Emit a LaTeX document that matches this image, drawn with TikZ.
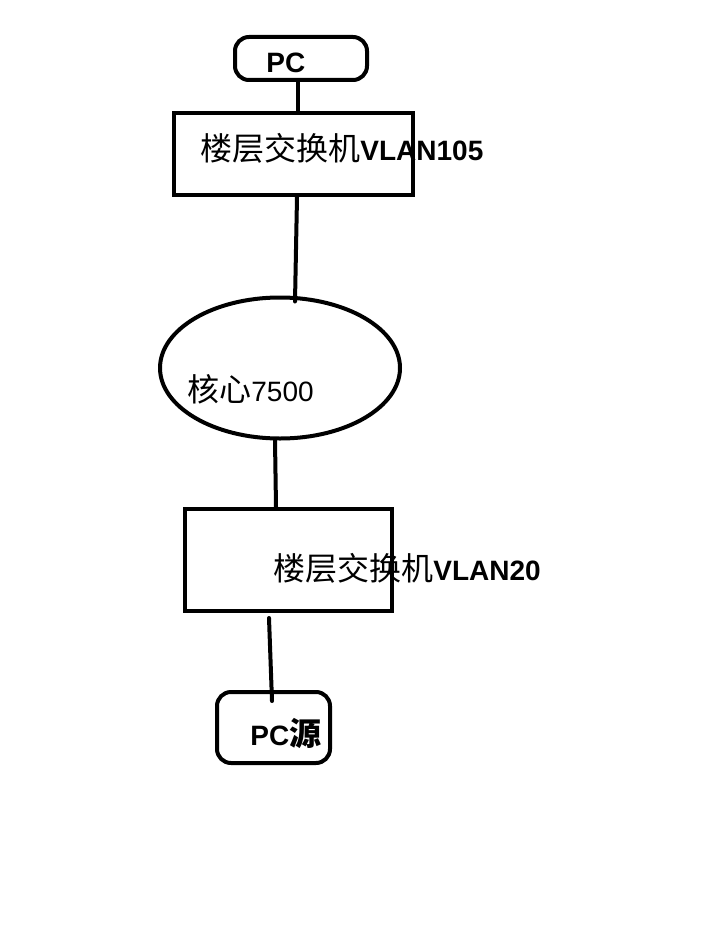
\documentclass[tikz,border=0pt]{standalone}
\usepackage{fontspec}
\setmainfont{Liberation Sans}
\newfontfamily\cjk{Noto Sans CJK SC}
\usepackage{tikz}
\usetikzlibrary{shapes.geometric}

\begin{document}
\begin{tikzpicture}[x=0.5pt,y=-0.5pt,
    box/.style={draw,line width=2pt,inner sep=0pt},
    pcbox/.style={box,rounded corners=7pt},
    link/.style={line width=2pt,line cap=round},
    tag/.style={anchor=west,inner sep=0pt,font=\fontsize{14}{16}\selectfont}]
      \useasboundingbox (0,0) rectangle (726,931);
      % boxes
      \node (pc) at (301,58.5) [pcbox,minimum width=66pt,minimum height=21.5pt] {};
      \node (sw1) at (293.5,154) [box,minimum width=119.5pt,minimum height=41pt] {};
      \node (core) at (280,368) [box,ellipse,minimum width=120pt,minimum height=70.5pt] {};
      \node (sw2) at (288.5,560) [box,minimum width=103.5pt,minimum height=51pt] {};
      \node (src) at (273.5,727.5) [pcbox,minimum width=56.5pt,minimum height=35.5pt] {};
      % texts
      \node (pct) at (266,63) [tag] {\textbf{PC}};
      \node (sw1t) at (200,148) [tag] {{\cjk\fontsize{16}{18}\selectfont 楼层交换机}\textbf{VLAN105}};
      \node (coret) at (187,389) [tag] {{\cjk\fontsize{16}{18}\selectfont 核心}7500};
      \node (sw2t) at (273,568) [tag] {{\cjk\fontsize{16}{18}\selectfont 楼层交换机}\textbf{VLAN20}};
      \node (srct) at (250,733) [tag] {\textbf{PC}{\cjk\bfseries\fontsize{16}{18}\selectfont 源}};
      % links
      \draw [link] ([xshift=-1.5pt]pc.south) -- ([xshift=2.25pt]sw1.north);
      \draw [link] ([xshift=1.75pt]sw1.south) -- ([xshift=7.5pt,yshift=-3pt]core.north);
      \draw [link] ([xshift=-2.5pt]core.south) -- ([xshift=-6.25pt]sw2.north);
      \draw [link] ([xshift=-9.75pt,yshift=-2.5pt]sw2.south) -- ([xshift=-0.75pt,yshift=-5.5pt]src.north);
    \end{tikzpicture}
\end{document}
